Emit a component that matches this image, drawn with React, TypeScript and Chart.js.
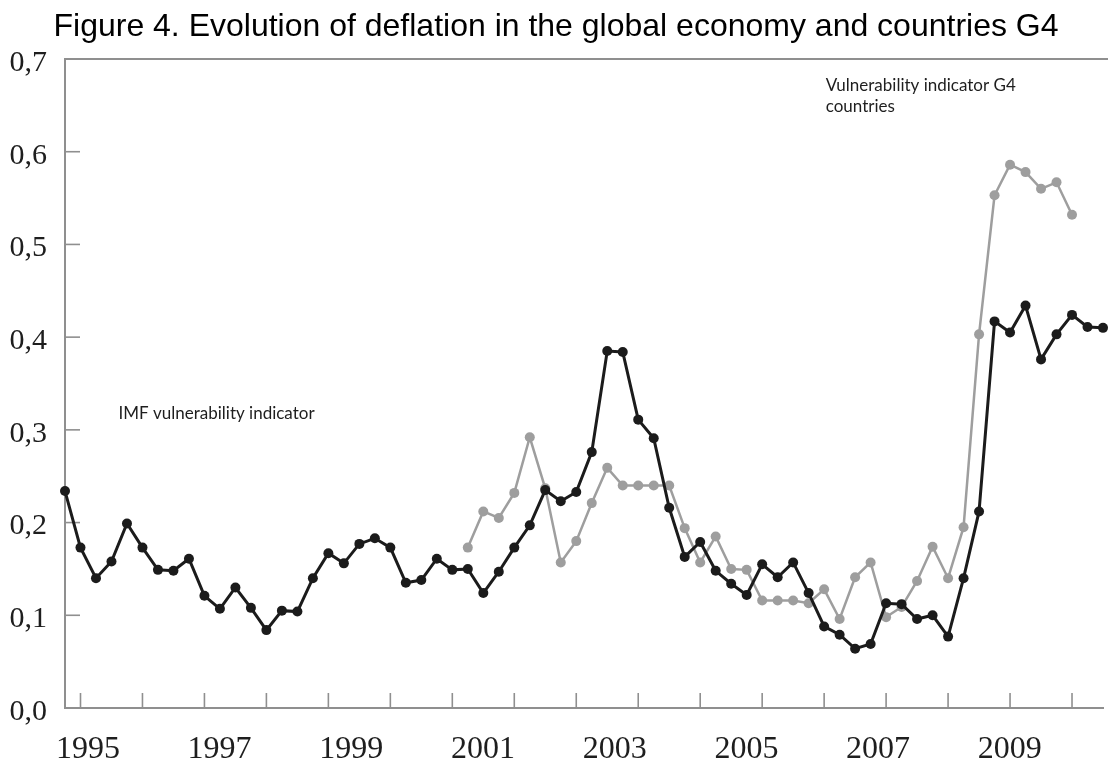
import React, { useEffect, useRef } from "react";
import { Chart, registerables } from "chart.js";

Chart.register(...registerables);

// ---------- DATA ----------
const quarterLabels: string[] = [
  "1994 Q4",
  "1995 Q1", "1995 Q2", "1995 Q3", "1995 Q4",
  "1996 Q1", "1996 Q2", "1996 Q3", "1996 Q4",
  "1997 Q1", "1997 Q2", "1997 Q3", "1997 Q4",
  "1998 Q1", "1998 Q2", "1998 Q3", "1998 Q4",
  "1999 Q1", "1999 Q2", "1999 Q3", "1999 Q4",
  "2000 Q1", "2000 Q2", "2000 Q3", "2000 Q4",
  "2001 Q1", "2001 Q2", "2001 Q3", "2001 Q4",
  "2002 Q1", "2002 Q2", "2002 Q3", "2002 Q4",
  "2003 Q1", "2003 Q2", "2003 Q3", "2003 Q4",
  "2004 Q1", "2004 Q2", "2004 Q3", "2004 Q4",
  "2005 Q1", "2005 Q2", "2005 Q3", "2005 Q4",
  "2006 Q1", "2006 Q2", "2006 Q3", "2006 Q4",
  "2007 Q1", "2007 Q2", "2007 Q3", "2007 Q4",
  "2008 Q1", "2008 Q2", "2008 Q3", "2008 Q4",
  "2009 Q1", "2009 Q2", "2009 Q3", "2009 Q4",
  "2010 Q1", "2010 Q2", "2010 Q3", "2010 Q4",
  "2011 Q1", "2011 Q2", "2011 Q3",
];

// IMF vulnerability indicator (black)
const imfIndicator: (number | null)[] = [
  0.234, 0.173, 0.140, 0.158, 0.199, 0.173, 0.149, 0.148, 0.161, 0.121,
  0.107, 0.130, 0.108, 0.084, 0.105, 0.104, 0.140, 0.167, 0.156, 0.177,
  0.183, 0.173, 0.135, 0.138, 0.161, 0.149, 0.150, 0.124, 0.147, 0.173,
  0.197, 0.235, 0.223, 0.233, 0.276, 0.385, 0.384, 0.311, 0.291, 0.216,
  0.163, 0.179, 0.148, 0.134, 0.122, 0.155, 0.141, 0.157, 0.124, 0.088,
  0.079, 0.064, 0.069, 0.113, 0.112, 0.096, 0.100, 0.077, 0.140, 0.212,
  0.417, 0.405, 0.434, 0.376, 0.403, 0.424, 0.411, 0.410,
];

// Vulnerability indicator G4 countries (grey)
const g4Indicator: (number | null)[] = [
  null, null, null, null, null, null, null, null, null, null,
  null, null, null, null, null, null, null, null, null, null,
  null, null, null, null, null, null,
  0.173, 0.212, 0.205, 0.232,
  0.292, 0.237, 0.157, 0.180, 0.221, 0.259, 0.240, 0.240, 0.240, 0.240,
  0.194, 0.157, 0.185, 0.150, 0.149, 0.116, 0.116, 0.116, 0.113, 0.128,
  0.096, 0.141, 0.157, 0.098, 0.109, 0.137, 0.174, 0.140, 0.195, 0.403,
  0.553, 0.586, 0.578, 0.560, 0.567, 0.532,
  null, null,
];

const yearTickLabels: number[] = [1995, 1997, 1999, 2001, 2003, 2005, 2007, 2009];
const yInnerTickValues: number[] = [0.1, 0.2, 0.3, 0.4, 0.5, 0.6];

const TITLE = "Figure 4. Evolution of deflation in the global economy and countries G4";
const IMF_LABEL = ["IMF vulnerability indicator"];
const G4_LABEL = ["Vulnerability indicator G4", "countries"];

// ---------- STYLE ----------
const AXIS_COLOR = "#8f8f8f";
const BLACK = "#1b1b1b";
const GREY = "#9e9e9e";
const SERIF = "'Liberation Serif', 'Times New Roman', serif";
const SANS = "'Liberation Sans', Arial, sans-serif";
const NOTE_FONT = "17px Lato, 'Open Sans', sans-serif";

// year-label axis range in years (the printed years are spaced differently from the quarterly tick marks)
const YEAR_AXIS_MIN = 1994.652;
const YEAR_AXIS_MAX = 2010.416;

const decorPlugin = {
  id: "decor",
  beforeDatasetsDraw(chart: any) {
    const { ctx, chartArea, scales } = chart;
    const xs = scales.x;
    const ys = scales.y;
    ctx.save();
    ctx.strokeStyle = AXIS_COLOR;
    // top frame line
    ctx.lineWidth = 2;
    ctx.beginPath();
    ctx.moveTo(chartArea.left, chartArea.top);
    ctx.lineTo(chart.width, chartArea.top);
    ctx.stroke();
    // inward tick marks
    ctx.lineWidth = 1.6;
    yInnerTickValues.forEach((v) => {
      const py = ys.getPixelForValue(v);
      ctx.beginPath();
      ctx.moveTo(chartArea.left, py);
      ctx.lineTo(chartArea.left + 15, py);
      ctx.stroke();
    });
    quarterLabels.forEach((lab, i) => {
      if (!lab.endsWith("Q1")) return;
      const px = xs.getPixelForValue(i);
      ctx.beginPath();
      ctx.moveTo(px, chartArea.bottom);
      ctx.lineTo(px, chartArea.bottom - 15);
      ctx.stroke();
    });
    ctx.restore();
  },
  afterDraw(chart: any) {
    const { ctx, scales } = chart;
    const xs = scales.x;
    const ys = scales.y;
    ctx.save();
    ctx.fillStyle = "#1e1e1e";
    ctx.font = NOTE_FONT;
    ctx.textAlign = "left";
    ctx.textBaseline = "middle";
    const notes = [
      { lines: IMF_LABEL, idx: 3.45, val: 0.318 },
      { lines: G4_LABEL, idx: 49.1, val: 0.671 },
    ];
    notes.forEach((n) => {
      const px = xs.getPixelForValue(n.idx);
      const py = ys.getPixelForValue(n.val);
      n.lines.forEach((t, k) => ctx.fillText(t, px, py + k * 21));
    });
    ctx.restore();
  },
};

export default function App() {
  const canvasRef = useRef<HTMLCanvasElement | null>(null);

  useEffect(() => {
    if (!canvasRef.current) return;
    const chart = new Chart(canvasRef.current, {
      type: "line",
      data: {
        labels: quarterLabels,
        datasets: [
          {
            label: "IMF vulnerability indicator",
            data: imfIndicator,
            borderColor: BLACK,
            backgroundColor: BLACK,
            pointBackgroundColor: BLACK,
            pointBorderWidth: 0,
            pointRadius: 5,
            borderWidth: 3,
            tension: 0,
            xAxisID: "x",
            yAxisID: "y",
          },
          {
            label: "Vulnerability indicator G4 countries",
            data: g4Indicator,
            borderColor: GREY,
            backgroundColor: GREY,
            pointBackgroundColor: GREY,
            pointBorderWidth: 0,
            pointRadius: 5,
            borderWidth: 2.5,
            tension: 0,
            xAxisID: "x",
            yAxisID: "y",
          },
        ],
      },
      options: {
        animation: false,
        responsive: true,
        maintainAspectRatio: false,
        layout: { padding: { left: 0, right: -4, top: 0, bottom: 0 } },
        plugins: {
          legend: { display: false },
          tooltip: { enabled: false },
          title: {
            display: true,
            text: TITLE,
            color: "#000",
            font: { family: SANS, size: 32, weight: "normal" },
            padding: { top: 8, bottom: 12.6 },
          },
        },
        scales: {
          x: {
            type: "category",
            position: "bottom",
            grid: { display: false, drawTicks: false },
            ticks: { display: false },
            border: { display: true, color: AXIS_COLOR, width: 2 },
            afterFit: (s: any) => {
              s.height = 0;
            },
          },
          xYear: {
            type: "linear",
            position: "bottom",
            min: YEAR_AXIS_MIN,
            max: YEAR_AXIS_MAX,
            grid: { display: false, drawTicks: false },
            border: { display: false },
            ticks: {
              autoSkip: false,
              maxRotation: 0,
              padding: 22,
              color: "#1e1e1e",
              font: { family: SERIF, size: 32 },
              callback: (v: any) => String(v),
            },
            afterBuildTicks: (s: any) => {
              s.ticks = yearTickLabels.map((v) => ({ value: v }));
            },
            afterFit: (s: any) => {
              s.height = 54;
            },
          },
          y: {
            min: 0,
            max: 0.7,
            grid: { display: false, drawTicks: false },
            border: { display: true, color: AXIS_COLOR, width: 2 },
            ticks: {
              stepSize: 0.1,
              padding: 18,
              labelOffset: 4,
              color: "#1e1e1e",
              font: { family: SERIF, size: 30 },
              callback: (v: any) => Number(v).toFixed(1).replace(".", ","),
            },
            afterFit: (s: any) => {
              s.width = 65;
            },
          },
        },
      } as any,
      plugins: [decorPlugin],
    });
    return () => chart.destroy();
  }, []);

  return (
    <div
      style={{
        position: "absolute",
        left: 0,
        top: 0,
        width: 1108,
        height: 762,
        background: "#fff",
        overflow: "hidden",
      }}
    >
      <canvas ref={canvasRef} />
    </div>
  );
}
